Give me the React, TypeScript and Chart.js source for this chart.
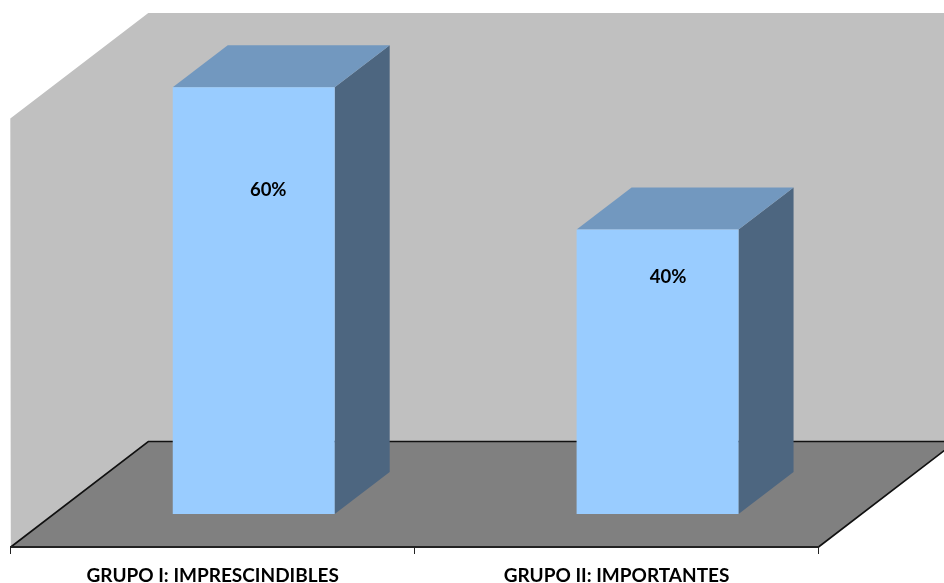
import React, { useEffect, useRef } from "react";
import { Chart, registerables } from "chart.js";

Chart.register(...registerables);

const categories = ["GRUPO I: IMPRESCINDIBLES", "GRUPO II: IMPORTANTES"];
const shares = [60, 40];
const labelHeights = [45.5, 33.3];
const axisMin = -4.64;
const axisMax = 70;

const WALL = "#c0c0c0";
const FLOOR = "#808080";
const FRONT = "#99ccff";
const TOP = "#7298bf";
const SIDE = "#4d6680";
const INK = "#000000";
const FONT = "Lato, 'Open Sans', sans-serif";

// Oblique projection: how far the room and each bar recede, and where the bars stand on the floor.
const ROOM_DX = 137.5;
const ROOM_DY = 105.5;
const BAR_DX = 55;
const BAR_DY = 42;
const FLOOR_SHIFT = 41;
const LABEL_NUDGE = [14.5, 10.5];

function poly(ctx: CanvasRenderingContext2D, pts: number[][], fill: string) {
  ctx.beginPath();
  pts.forEach(([x, y], i) => (i ? ctx.lineTo(x, y) : ctx.moveTo(x, y)));
  ctx.closePath();
  ctx.fillStyle = fill;
  ctx.fill();
}

const room = {
  id: "room",
  beforeDraw(chart: any) {
    const { ctx, chartArea: a } = chart;
    const l = a.left;
    const r = a.right;
    const b = a.bottom;
    const backY = b - ROOM_DY;
    const topY = 13;
    ctx.save();
    poly(
      ctx,
      [
        [l - 0.5, topY + ROOM_DY],
        [l + ROOM_DX, topY],
        [r + ROOM_DX, topY],
        [r + ROOM_DX, backY],
        [l + ROOM_DX, backY],
        [l, b],
      ],
      WALL
    );
    poly(
      ctx,
      [
        [l, b],
        [l + ROOM_DX, backY],
        [r + ROOM_DX, backY],
        [r, b],
      ],
      FLOOR
    );
    ctx.strokeStyle = "#111111";
    ctx.lineWidth = 1.6;
    ctx.beginPath();
    ctx.moveTo(l, b);
    ctx.lineTo(l + ROOM_DX, backY);
    ctx.lineTo(r + ROOM_DX, backY);
    ctx.moveTo(r, b);
    ctx.lineTo(r + ROOM_DX, backY);
    ctx.stroke();
    ctx.restore();
  },
};

const solidBars = {
  id: "solidBars",
  beforeDatasetsDraw(chart: any) {
    const { ctx } = chart;
    const base = chart.scales.y.getPixelForValue(0);
    ctx.save();
    chart.getDatasetMeta(0).data.forEach((bar: any) => {
      const half = bar.width / 2;
      const x0 = bar.x + FLOOR_SHIFT - half;
      const x1 = bar.x + FLOOR_SHIFT + half;
      const y = bar.y;
      poly(
        ctx,
        [
          [x1, y],
          [x1 + BAR_DX, y - BAR_DY],
          [x1 + BAR_DX, base - BAR_DY],
          [x1, base],
        ],
        SIDE
      );
      poly(
        ctx,
        [
          [x0, y],
          [x0 + BAR_DX, y - BAR_DY],
          [x1 + BAR_DX, y - BAR_DY],
          [x1, y],
        ],
        TOP
      );
    });
    ctx.restore();
    // The front faces stand forward of the axis plane by the same shift.
    ctx.save();
    ctx.translate(FLOOR_SHIFT, 0);
  },
  afterDatasetsDraw(chart: any) {
    const { ctx } = chart;
    ctx.restore();
    ctx.save();
    ctx.font = `bold 18.5px ${FONT}`;
    ctx.fillStyle = INK;
    ctx.textAlign = "center";
    ctx.textBaseline = "middle";
    chart.getDatasetMeta(0).data.forEach((bar: any, i: number) => {
      const y = chart.scales.y.getPixelForValue(labelHeights[i]);
      ctx.fillText(`${shares[i]}%`, bar.x + FLOOR_SHIFT + LABEL_NUDGE[i], y);
    });
    ctx.restore();
  },
};

export default function App() {
  const ref = useRef<HTMLCanvasElement>(null);

  useEffect(() => {
    const chart = new Chart(ref.current!, {
      type: "bar",
      data: {
        labels: categories,
        datasets: [
          {
            data: shares,
            backgroundColor: FRONT,
            borderWidth: 0,
            barPercentage: 0.401,
            categoryPercentage: 1,
          },
        ],
      },
      plugins: [room, solidBars],
      options: {
        responsive: false,
        animation: false,
        layout: { padding: { left: 10.8, right: 125.5, top: 16, bottom: 0 } },
        plugins: { legend: { display: false }, tooltip: { enabled: false } },
        scales: {
          y: { display: false, min: axisMin, max: axisMax },
          x: {
            afterFit(scale: any) {
              scale.height = 36;
            },
            border: { display: true, color: "#222222", width: 2 },
            grid: {
              offset: true,
              drawOnChartArea: false,
              drawTicks: true,
              tickLength: 7,
              color: "#222222",
              lineWidth: 1,
            },
            ticks: {
              color: INK,
              padding: 10,
              maxRotation: 0,
              font: { family: FONT, size: 19, weight: "bold" },
            },
          },
        },
      },
    } as any);
    return () => chart.destroy();
  }, []);

  return (
    <div style={{ position: "absolute", left: 0, top: 0, width: 944, height: 583 }}>
      <canvas ref={ref} width={944} height={583} style={{ display: "block" }} />
    </div>
  );
}
